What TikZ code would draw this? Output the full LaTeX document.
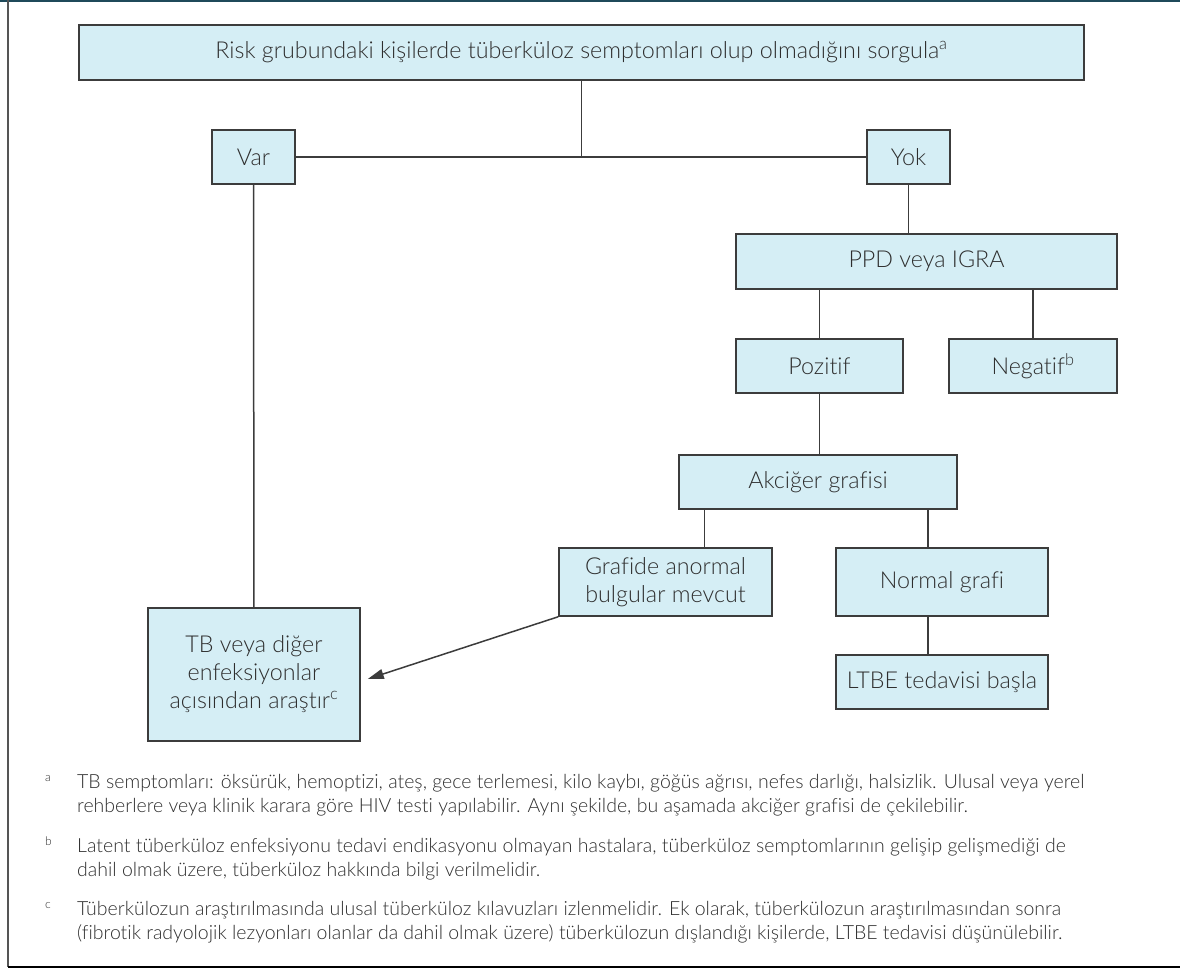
\documentclass[tikz,border=0pt]{standalone}
\usepackage{fontspec}
\setmainfont{Lato Light}[Ligatures=NoCommon]
\usetikzlibrary{arrows.meta}

\definecolor{boxfill}{HTML}{D5EEF5}
\definecolor{boxline}{HTML}{3C3C3C}
\definecolor{txt}{HTML}{2E2E2E}
\definecolor{topline}{HTML}{1F4A5A}
\definecolor{sideline}{HTML}{555555}
\definecolor{baseline}{HTML}{A0A0A0}

\begin{document}
\begin{tikzpicture}[
        x=1pt, y=-1pt,
        font=\fontsize{23.3}{28}\selectfont, text=txt,
        box/.style={draw=boxline, fill=boxfill, line width=1.5pt,
                    align=center, inner sep=0pt},
        link/.style={draw=boxline, line width=1.5pt},
        arr/.style={-{Triangle[length=16pt,width=10pt]}, draw=boxline,
                    line width=1.5pt},
        note/.style={anchor=base west, align=left, inner sep=0pt,
                     font=\fontsize{19.5}{24}\selectfont},
        notemark/.style={anchor=base west, inner sep=0pt,
                         font=\fontsize{12}{14}\selectfont}
      ]
        \useasboundingbox (0,0) rectangle (1180,968);
        \draw[topline, line width=2pt] (0,1) -- (1180,1);
        \draw[sideline, line width=1.5pt] (8,0) -- (8,967);
        \draw[baseline, line width=1.5pt] (8,967) -- (1180,967);

        \node[box, minimum width=1005pt, minimum height=55pt] (ask) at (581.5,52.5)
          {Risk grubundaki kişilerde tüberküloz semptomları olup olmadığını sorgula\textsuperscript{a}};
        \node[box, minimum width=83pt, minimum height=54pt] (var) at (253.5,157) {Var};
        \node[box, minimum width=83pt, minimum height=54pt] (yok) at (908.5,157) {Yok};
        \node[box, minimum width=381pt, minimum height=55pt] (ppd) at (926.5,261.5)
          {PPD veya IGRA};
        \node[box, minimum width=167pt, minimum height=54pt] (poz) at (819.5,366) {Pozitif};
        \node[box, minimum width=168pt, minimum height=54pt] (neg) at (1033,366)
          {Negatif\textsuperscript{b}};
        \node[box, minimum width=278pt, minimum height=54pt] (akc) at (818,482)
          {Akciğer grafisi};
        \node[box, minimum width=213pt, minimum height=68pt] (anorm) at (665.5,582)
          {Grafide anormal\\bulgular mevcut};
        \node[box, minimum width=212pt, minimum height=68pt] (normal) at (942,582)
          {Normal grafi};
        \node[box, minimum width=212pt, minimum height=54pt] (ltbe) at (942,682)
          {LTBE tedavisi başla};
        \node[box, minimum width=212pt, minimum height=133pt] (tb) at (254,674.5)
          {TB veya diğer\\enfeksiyonlar\\açısından araştır\textsuperscript{c}};

        \coordinate (akcl) at ([xshift=26pt]akc.south west);
        \coordinate (akcr) at ([xshift=-30pt]akc.south east);

        \draw[link] (ask) -- (ask |- var);
        \draw[link] (var) -- (yok);
        \draw[link] (yok) -- (yok |- ppd.north);
        \draw[link] (poz) -- (poz |- ppd.south);
        \draw[link] (neg) -- (neg |- ppd.south);
        \draw[link] (poz) -- (poz |- akc.north);
        \draw[link] (akcl) -- (akcl |- anorm.north);
        \draw[link] (akcr) -- (akcr |- normal.north);
        \draw[link] (akcr |- normal.south) -- (akcr |- ltbe.north);
        \draw[link] (var) -- (tb);
        \draw[arr] (anorm.south west) -- ([shift={(7,4.5)}]tb.east);

        \node[notemark] (ma) at (45,781) {a};
        \node[note] (fna) at (77,812)
          {TB semptomları: öksürük, hemoptizi, ateş, gece terlemesi, kilo kaybı, göğüs ağrısı, nefes darlığı, halsizlik. Ulusal veya yerel\\
           rehberlere veya klinik karara göre HIV testi yapılabilir. Aynı şekilde, bu aşamada akciğer grafisi de çekilebilir.};
        \node[notemark] (mb) at (45,845.5) {b};
        \node[note] (fnb) at (77,876)
          {Latent tüberküloz enfeksiyonu tedavi endikasyonu olmayan hastalara, tüberküloz semptomlarının gelişip gelişmediği de\\
           dahil olmak üzere, tüberküloz hakkında bilgi verilmelidir.};
        \node[notemark] (mc) at (45,908.5) {c};
        \node[note] (fnc) at (77,939)
          {Tüberkülozun araştırılmasında ulusal tüberküloz kılavuzları izlenmelidir. Ek olarak, tüberkülozun araştırılmasından sonra\\
           (fibrotik radyolojik lezyonları olanlar da dahil olmak üzere) tüberkülozun dışlandığı kişilerde, LTBE tedavisi düşünülebilir.};
      \end{tikzpicture}
\end{document}
